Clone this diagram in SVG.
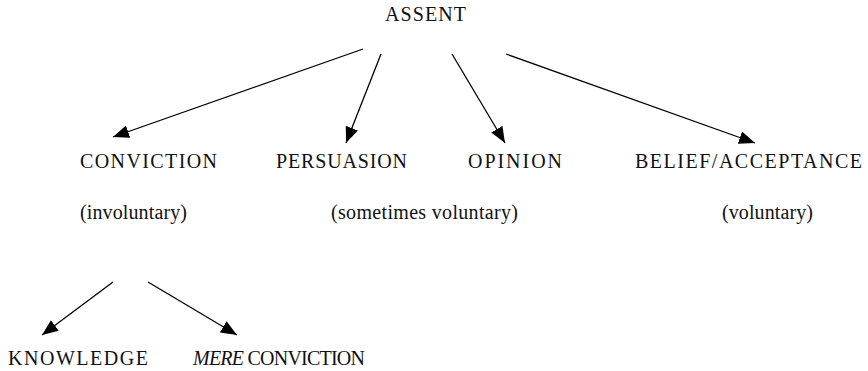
<svg xmlns="http://www.w3.org/2000/svg" width="868" height="371" viewBox="0 0 868 371">
<style>
.e{stroke:#000;stroke-width:1.3;fill:none;marker-end:url(#ah)}
</style>
<defs>
<marker id="ah" markerUnits="userSpaceOnUse" markerWidth="18" markerHeight="14" refX="16" refY="6.5" orient="auto">
<path d="M0,0 L16,6.5 L0,13 z" fill="#000"/>
</marker>
</defs>
<rect width="868" height="371" fill="#fff"/>
<g font-family="Liberation Serif, DejaVu Serif, Times New Roman, serif" font-size="20" fill="#111">
<g id="n-assent"><text x="385" y="21" textLength="81" lengthAdjust="spacing">ASSENT</text></g>
<g id="n-conviction"><text x="80" y="168" textLength="137" lengthAdjust="spacing">CONVICTION</text>
<text x="80" y="219" textLength="107" lengthAdjust="spacing">(involuntary)</text></g>
<g id="n-persuasion"><text x="276" y="168" textLength="131" lengthAdjust="spacing">PERSUASION</text></g>
<g id="n-sometimes"><text x="331" y="219" textLength="187" lengthAdjust="spacing">(sometimes voluntary)</text></g>
<g id="n-opinion"><text x="468" y="168" textLength="94" lengthAdjust="spacing">OPINION</text></g>
<g id="n-belief"><text x="635" y="168" textLength="227" lengthAdjust="spacing">BELIEF/ACCEPTANCE</text>
<text x="722" y="219" textLength="91" lengthAdjust="spacing">(voluntary)</text></g>
<g id="n-knowledge"><text x="8" y="365" textLength="140" lengthAdjust="spacing">KNOWLEDGE</text></g>
<g id="n-mere"><text x="193" y="365" textLength="172" lengthAdjust="spacing"><tspan font-style="italic">MERE</tspan> CONVICTION</text></g>
</g>
<g id="connectors">
<line class="e" x1="363" y1="49" x2="113" y2="137"/>
<line class="e" x1="381" y1="54" x2="346" y2="143"/>
<line class="e" x1="452" y1="54" x2="505" y2="143"/>
<line class="e" x1="506" y1="54" x2="755" y2="143"/>
<line class="e" x1="113" y1="282" x2="42" y2="335"/>
<line class="e" x1="148" y1="282" x2="237" y2="335"/>
</g>
</svg>
